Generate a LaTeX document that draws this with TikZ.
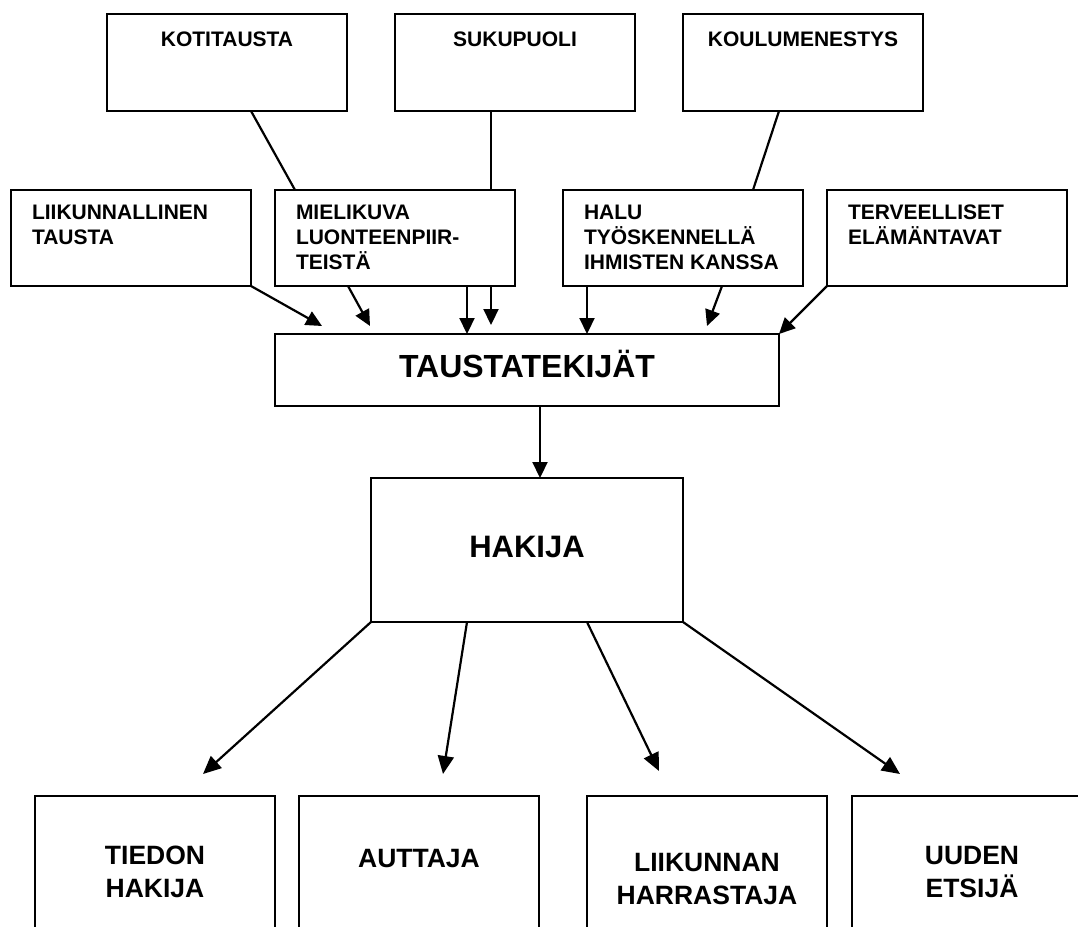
\documentclass[tikz,border=0pt]{standalone}
\usepackage{fontspec}
\setmainfont{Liberation Sans}
\usetikzlibrary{arrows.meta,calc}
\begin{document}
\begin{tikzpicture}[x=1pt,y=-1pt,
  box/.style={draw,line width=2pt,inner sep=0pt,outer sep=0pt,minimum width=240pt},
  topbox/.style={box,minimum height=97pt},
  midbox/.style={box,minimum height=96pt},
  botbox/.style={box,minimum height=154pt},
  lbl/.style={inner sep=0pt,outer sep=0pt,font=\fontsize{21}{25}\selectfont\bfseries},
  midlbl/.style={lbl,anchor=north west,align=left},
  botlbl/.style={inner sep=0pt,outer sep=0pt,anchor=north,align=center,font=\fontsize{26.5}{33}\selectfont\bfseries},
  conn/.style={line width=2.2pt},
  arr/.style={line width=2.2pt,-{Triangle[length=16pt,width=15pt]}},
  barr/.style={line width=2.2pt,-{Triangle[length=18pt,width=16pt]}}
]
\clip (0,0) rectangle (1078,926);
\fill[white] (0,0) rectangle (1078,926);

% top row
\node[topbox] (kot) at (227,62.5) {};
\node[topbox] (suk) at (515,62.5) {};
\node[topbox] (kou) at (803,62.5) {};
\node[lbl,anchor=base] (kotT) at (227,46) {KOTITAUSTA};
\node[lbl,anchor=base] (sukT) at (515,46) {SUKUPUOLI};
\node[lbl,anchor=base] (kouT) at (803,46) {KOULUMENESTYS};

% second row
\node[midbox] (liik) at (131,238) {};
\node[midbox] (miel) at (395,238) {};
\node[midbox] (halu) at (683,238) {};
\node[midbox] (terv) at (947,238) {};
\node[midlbl] (liikT) at (32,205) {LIIKUNNALLINEN\\TAUSTA};
\node[midlbl] (mielT) at (296,205) {MIELIKUVA\\LUONTEENPIIR-\\TEISTÄ};
\node[midlbl] (haluT) at (584,205) {HALU\\TYÖSKENNELLÄ\\IHMISTEN KANSSA};
\node[midlbl] (tervT) at (848,205) {TERVEELLISET\\ELÄMÄNTAVAT};

% middle
\node[box,minimum width=504pt,minimum height=72pt] (tt) at (527,370) {};
\node[inner sep=0pt,anchor=base,font=\fontsize{32}{38}\selectfont\bfseries] (ttT) at (527,377) {TAUSTATEKIJÄT};
\node[box,minimum width=312pt,minimum height=144pt] (hak) at (527,550) {};
\node[inner sep=0pt,anchor=base,font=\fontsize{31}{37}\selectfont\bfseries] (hakT) at (527,557) {HAKIJA};

% bottom row
\node[botbox] (tie) at (155,873) {};
\node[botbox] (aut) at (419,873) {};
\node[botbox] (lii) at (707,873) {};
\node[botbox] (uud) at (972,873) {};
\node[botlbl] (tieT) at (155,846) {TIEDON\\HAKIJA};
\node[botlbl,anchor=base] (autT) at (419,867) {AUTTAJA};
\node[botlbl] (liiT) at (707,853) {LIIKUNNAN\\HARRASTAJA};
\node[botlbl] (uudT) at (972,846) {UUDEN\\ETSIJÄ};

% arrow tips (free ends)
\coordinate (t1) at (322,326);
\coordinate (t2) at (370,326);
\coordinate (t3) at (491,325);
\coordinate (t4) at (707,326);
\coordinate (b1) at (203,774);
\coordinate (b2) at (443,774);
\coordinate (b3) at (659,771);
\coordinate (b4) at (900,774);

% top row to second row
\draw[conn] ([xshift=24pt]kot.south) -- ([xshift=20pt]miel.north west);
\draw[conn] ([xshift=-24pt]suk.south) -- ([xshift=216pt]miel.north west);
\draw[conn] ([xshift=-24pt]kou.south) -- ([xshift=190pt]halu.north west);

% second row to TAUSTATEKIJÄT
\draw[arr] (liik.south east) -- (t1);
\draw[arr] ([xshift=73pt]miel.south west) -- (t2);
\draw[arr] ([xshift=192pt]miel.south west) -- ([xshift=192pt]tt.north west);
\draw[arr] ([xshift=216pt]miel.south west) -- (t3);
\draw[arr] ([xshift=24pt]halu.south west) -- ([xshift=312pt]tt.north west);
\draw[arr] ([xshift=159pt]halu.south west) -- (t4);
\draw[arr] (terv.south west) -- (tt.north east);

% TAUSTATEKIJÄT to HAKIJA
\draw[arr] ([xshift=13pt]tt.south) -- ([xshift=13pt]hak.north);

% HAKIJA to bottom row
\draw[barr] (hak.south west) -- (b1);
\draw[barr] ([xshift=96pt]hak.south west) -- (b2);
\draw[barr] ([xshift=216pt]hak.south west) -- (b3);
\draw[barr] (hak.south east) -- (b4);
\end{tikzpicture}
\end{document}
